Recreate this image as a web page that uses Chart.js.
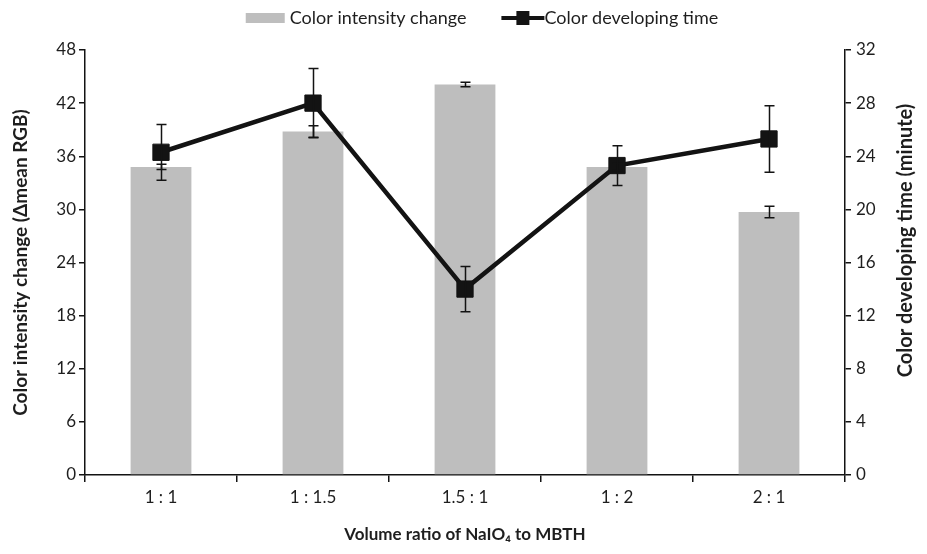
<!DOCTYPE html>
<html>
<head>
<meta charset="utf-8">
<title>Color intensity change and developing time</title>
<script src="https://cdn.jsdelivr.net/npm/chart.js@4.4.0/dist/chart.umd.min.js"></script>
<style>
  html, body { margin: 0; padding: 0; background: #fff; }
</style>
</head>
<body>
<canvas id="chart" width="927" height="554"></canvas>
<script>
// Volume ratio of NaIO4 to MBTH
const ratios = ['1 : 1', '1 : 1.5', '1.5 : 1', '1 : 2', '2 : 1'];

// Color intensity change (Δmean RGB) - bars, left axis
const intensity = [34.8, 38.8, 44.1, 34.8, 29.7];
const intensityErr = [0.3, 0.65, 0.25, 0.4, 0.65];

// Color developing time (minute) - line, right axis
const devTime = [24.3, 28.0, 14.0, 23.3, 25.3];
const devTimeErr = [2.1, 2.6, 1.7, 1.5, 2.5];

// axis ranges
const leftMax = 48, leftStep = 6;
const rightMax = 32, rightStep = 4;

const FONT = 'Lato, "Open Sans", sans-serif';
const barColor = '#bebebe';
const ink = '#131313';

// error bars for every dataset that has an "errors" array
const errorBars = {
    id: 'errorBars',
    afterDatasetsDraw(chart) {
        const ctx = chart.ctx;
        chart.data.datasets.forEach((ds, i) => {
            if (!ds.errors) return;
            const meta = chart.getDatasetMeta(i);
            const yScale = chart.scales[ds.yAxisID];
            ctx.save();
            ctx.strokeStyle = ink;
            ctx.lineWidth = 1.5;
            meta.data.forEach((el, j) => {
                const x = Math.round(el.x) + 0.5;
                const yTop = yScale.getPixelForValue(ds.data[j] + ds.errors[j]);
                const yBot = yScale.getPixelForValue(ds.data[j] - ds.errors[j]);
                ctx.beginPath();
                ctx.moveTo(x, yTop); ctx.lineTo(x, yBot);
                ctx.moveTo(x - 5, yTop); ctx.lineTo(x + 5, yTop);
                ctx.moveTo(x - 5, yBot); ctx.lineTo(x + 5, yBot);
                ctx.stroke();
            });
            ctx.restore();
        });
    }
};

// legend at the top + right axis title (reads bottom to top like the left one)
const extras = {
    id: 'extras',
    afterDraw(chart) {
        const ctx = chart.ctx;
        const area = chart.chartArea;
        ctx.save();

        // legend
        const label1 = chart.data.datasets[0].label;
        const label2 = chart.data.datasets[1].label;
        ctx.font = '18px ' + FONT;
        ctx.textBaseline = 'middle';
        const w1 = 39 + 5 + ctx.measureText(label1).width;
        const w2 = 43 + ctx.measureText(label2).width;
        let x = 482 - (w1 + 35 + w2) / 2;
        const y = 18;
        ctx.fillStyle = barColor;
        ctx.fillRect(x, y - 5, 39, 10);
        ctx.fillStyle = '#1e1e1e';
        ctx.fillText(label1, x + 44, y);
        x += w1 + 35;
        ctx.strokeStyle = ink;
        ctx.lineWidth = 4;
        ctx.beginPath();
        ctx.moveTo(x, y); ctx.lineTo(x + 43, y);
        ctx.stroke();
        ctx.fillStyle = ink;
        ctx.fillRect(x + 15, y - 7, 13, 14);
        ctx.fillStyle = '#1e1e1e';
        ctx.fillText(label2, x + 43, y);

        // right axis title
        ctx.translate(906, (area.top + area.bottom) / 2 - 22);
        ctx.rotate(-Math.PI / 2);
        ctx.font = 'bold 20px ' + FONT;
        ctx.textAlign = 'center';
        ctx.fillStyle = '#1e1e1e';
        ctx.fillText('Color developing time (minute)', 0, 0);
        ctx.restore();
    }
};

const axisLine = { display: true, color: ink, width: 1.5 };

new Chart(document.getElementById('chart'), {
    data: {
        labels: ratios,
        datasets: [
            {
                type: 'bar',
                label: 'Color intensity change',
                data: intensity,
                errors: intensityErr,
                yAxisID: 'y',
                backgroundColor: barColor,
                borderWidth: 0,
                categoryPercentage: 1.0,
                barPercentage: 0.4,
                order: 1
            },
            {
                type: 'line',
                label: 'Color developing time',
                data: devTime,
                errors: devTimeErr,
                yAxisID: 'y1',
                borderColor: ink,
                borderWidth: 4.5,
                pointStyle: 'rect',
                pointRadius: 11.5,
                pointBackgroundColor: ink,
                pointBorderColor: ink,
                pointBorderWidth: 1,
                tension: 0,
                order: 0
            }
        ]
    },
    options: {
        responsive: false,
        animation: false,
        layout: { padding: { top: 50, left: 0, right: 0, bottom: 0 } },
        plugins: {
            legend: { display: false },
            tooltip: { enabled: false }
        },
        scales: {
            x: {
                offset: true,
                grid: {
                    display: true,
                    offset: true,
                    drawOnChartArea: false,
                    drawTicks: true,
                    tickLength: 7,
                    color: ink,
                    lineWidth: 1.5
                },
                border: axisLine,
                ticks: { color: '#1e1e1e', font: { family: FONT, size: 17 }, padding: 5, maxRotation: 0 },
                title: {
                    display: true,
                    text: 'Volume ratio of NaIO\u2084 to MBTH',
                    color: '#1e1e1e',
                    font: { family: FONT, size: 17, weight: 'bold' },
                    padding: { top: 0, bottom: 9 }
                },
                afterFit(scale) { scale.height = 79; }
            },
            y: {
                position: 'left',
                min: 0,
                max: leftMax,
                ticks: { stepSize: leftStep, color: '#1e1e1e', font: { family: FONT, size: 17 }, padding: 3 },
                grid: {
                    display: true,
                    drawOnChartArea: false,
                    drawTicks: true,
                    tickLength: 6,
                    color: ink,
                    lineWidth: 1.5
                },
                border: axisLine,
                title: {
                    display: true,
                    text: 'Color intensity change (\u0394mean RGB)',
                    color: '#1e1e1e',
                    font: { family: FONT, size: 19, weight: 'bold' },
                    padding: { top: 9, bottom: 0 }
                },
                afterFit(scale) { scale.width = 85; }
            },
            y1: {
                position: 'right',
                min: 0,
                max: rightMax,
                ticks: { stepSize: rightStep, color: '#1e1e1e', font: { family: FONT, size: 17 }, padding: 5 },
                grid: {
                    display: true,
                    drawOnChartArea: false,
                    drawTicks: true,
                    tickLength: 6,
                    color: ink,
                    lineWidth: 1.5
                },
                border: axisLine,
                afterFit(scale) { scale.width = 82; }
            }
        }
    },
    plugins: [errorBars, extras]
});
</script>
</body>
</html>
